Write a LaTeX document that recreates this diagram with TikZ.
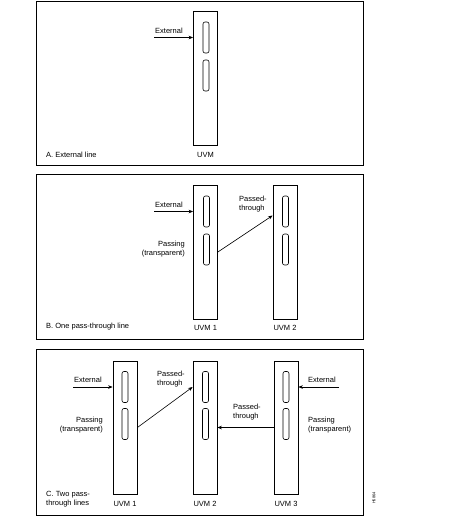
\documentclass[tikz,border=0pt]{standalone}
\usepackage{fontspec}
\setmainfont{Liberation Sans}
\usetikzlibrary{arrows.meta,positioning}

\begin{document}
\begin{tikzpicture}[x=1pt, y=-1pt,
  frame/.style={draw, line width=0.9pt},
  card/.style={draw, line width=0.8pt, minimum width=24pt, inner sep=0pt},
  slot/.style={draw, line width=0.6pt, rounded corners=2pt, minimum width=6pt, minimum height=31pt, inner sep=0pt},
  arr/.style={-{Stealth[length=4.5pt, width=3.6pt]}, line width=0.6pt},
  lbl/.style={font=\fontsize{7.5}{9}\selectfont, inner sep=1pt}]
  \useasboundingbox (0,0) rectangle (468,528);

  % A. External line
  \draw[frame] (36,1) rectangle (363,165);
  \node[card, minimum height=134pt] (uvmA) at (205.5,78) {};
  \node[slot] (slotA1) at (206,37.5) {};
  \node[slot] (slotA2) at (206,75.5) {};
  \coordinate (extA) at (154,37.5);
  \draw[arr] (extA) -- (uvmA.west |- slotA1);
  \node[lbl, anchor=south west] (extAlbl) at (154,35) {External};
  \node[lbl, below=6pt of uvmA] (uvmAname) {UVM};
  \node[lbl, anchor=west] (titleA) at (45,155) {A. External line};

  % B. One pass-through line
  \draw[frame] (36,174) rectangle (363,339);
  \node[card, minimum height=134pt] (uvmB1) at (205.5,252) {};
  \node[card, minimum height=134pt] (uvmB2) at (285,252) {};
  \node[slot] (slotB1a) at (206.5,211.5) {};
  \node[slot] (slotB1b) at (206.5,249.5) {};
  \node[slot] (slotB2a) at (285.5,211.5) {};
  \node[slot] (slotB2b) at (285.5,249.5) {};
  \coordinate (extB) at (154,211.5);
  \draw[arr] (extB) -- (uvmB1.west |- slotB1a);
  \draw[arr] (uvmB1.east) -- ([yshift=-4pt]uvmB2.west |- slotB2a);
  \node[lbl, anchor=south west] (extBlbl) at (154,208.5) {External};
  \node[lbl, anchor=east, align=right] (passB) at (186,249.5) {Passing\\(transparent)};
  \node[lbl, anchor=west, align=left] (thruB) at (238,204) {Passed-\\through};
  \node[lbl, below=4.5pt of uvmB1] (uvmB1name) {UVM 1};
  \node[lbl, below=4.5pt of uvmB2] (uvmB2name) {UVM 2};
  \node[lbl, anchor=west] (titleB) at (45,327) {B. One pass-through line};

  % C. Two pass-through lines
  \draw[frame] (36,349) rectangle (363,515);
  \node[card, minimum height=133pt] (uvmC1) at (125,427.5) {};
  \node[card, minimum height=133pt] (uvmC2) at (205,427.5) {};
  \node[card, minimum height=133pt] (uvmC3) at (286,427.5) {};
  \node[slot] (slotC1a) at (125,387) {};
  \node[slot] (slotC1b) at (125,424) {};
  \node[slot] (slotC2a) at (205.5,387) {};
  \node[slot] (slotC2b) at (205.5,424) {};
  \node[slot] (slotC3a) at (286,387) {};
  \node[slot] (slotC3b) at (286,424) {};
  \coordinate (extC1) at (73,387);
  \coordinate (extC3) at (339,387);
  \draw[arr] (extC1) -- (uvmC1.west |- slotC1a);
  \draw[arr] (extC3) -- (uvmC3.east |- slotC3a);
  \draw[arr] (uvmC1.east) -- (uvmC2.west |- slotC2a);
  \draw[arr] (uvmC3.west) -- (uvmC2.east);
  \node[lbl, anchor=south west] (extC1lbl) at (73,384) {External};
  \node[lbl, anchor=south west] (extC3lbl) at (307,384) {External};
  \node[lbl, anchor=east, align=right] (passC1) at (104,425) {Passing\\(transparent)};
  \node[lbl, anchor=west, align=left] (passC3) at (307,425) {Passing\\(transparent)};
  \node[lbl, anchor=west, align=left] (thruC2) at (156,379) {Passed-\\through};
  \node[lbl, anchor=west, align=left] (thruC3) at (232,412) {Passed-\\through};
  \node[lbl, below=6pt of uvmC1] (uvmC1name) {UVM 1};
  \node[lbl, below=6pt of uvmC2] (uvmC2name) {UVM 2};
  \node[lbl, below=6pt of uvmC3] (uvmC3name) {UVM 3};
  \node[lbl, anchor=west, align=left] (titleC) at (45,499) {C. Two pass-\\through lines};

  % figure number
  \node[font=\fontsize{4}{4}\selectfont, inner sep=0pt, rotate=90] (figno) at (374,498) {H5864};
\end{tikzpicture}
\end{document}
